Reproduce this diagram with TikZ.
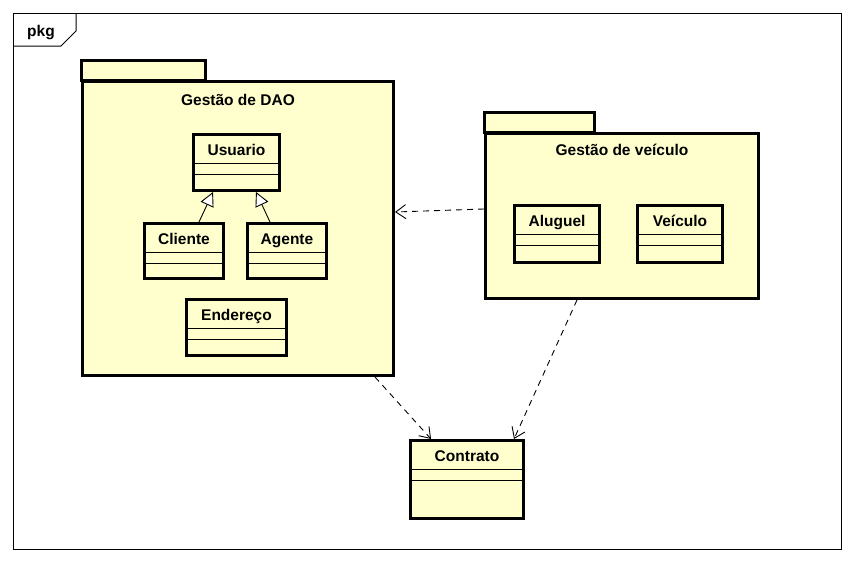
\documentclass[tikz,border=0pt]{standalone}
\usepackage{fontspec}
\setmainfont{Liberation Sans}
\usetikzlibrary{arrows.meta,positioning}
\definecolor{umlfill}{RGB}{255,255,206}
\tikzset{
  umlfont/.style={font=\fontsize{15.5}{17}\selectfont\bfseries, anchor=base, inner sep=0pt},
  pkgtab/.style={draw, line width=3pt, fill=umlfill},
  pkgbody/.style={draw, line width=3pt, fill=umlfill, inner sep=0pt, anchor=north west},
  classbox/.style={draw, line width=3pt, fill=umlfill, inner sep=0pt, anchor=north west},
  compline/.style={line width=0.9pt},
  dep/.style={line width=0.9pt, dash pattern=on 6pt off 5pt,
    -{Straight Barb[length=10pt,width=14pt,line width=0.9pt]}},
  gen/.style={line width=0.9pt, -{Triangle[open,length=14pt,width=14pt,fill=white,line width=0.9pt]}}
}
% class: name, x, y, width, height, label
\newcommand{\umlclass}[6]{%
  \node[classbox, minimum width=#4pt, minimum height=#5pt] (#1) at (#2,#3) {};
  \node[umlfont] (#1-name) at ([yshift=-22.5pt]#1.north) {#6};
  \draw[compline] ([yshift=-30.5pt]#1.north west) -- ([yshift=-30.5pt]#1.north east);
  \draw[compline] ([yshift=-41pt]#1.north west) -- ([yshift=-41pt]#1.north east);
}
\begin{document}
\begin{tikzpicture}[x=1pt,y=-1pt,line join=miter]
  \useasboundingbox (0,0) rectangle (853,562);
  \fill[white] (0,0) rectangle (853,562);

  \draw[line width=1pt] (13,13) rectangle (841,549);
  \draw[line width=1pt] (13,46) -- (61,46) -- (76,31) -- (76,13);
  \node[umlfont] (pkg) at (41,36) {pkg};

  \draw[pkgtab] (81,60) rectangle (205,80);
  \node[pkgbody, minimum width=311pt, minimum height=294pt] (dao) at (81,80) {};
  \node[umlfont] (dao-name) at ([yshift=-25pt]dao.north) {Gestão de DAO};

  \draw[pkgtab] (484,112) rectangle (594,132);
  \node[pkgbody, minimum width=273pt, minimum height=165pt] (veic) at (484,132) {};
  \node[umlfont] (veic-name) at ([yshift=-23.5pt]veic.north) {Gestão de veículo};

  \umlclass{usuario}{192}{133}{86}{56}{Usuario}
  \umlclass{cliente}{143}{222}{79}{55}{Cliente}
  \umlclass{agente}{246}{222}{79}{55}{Agente}
  \umlclass{endereco}{185}{298}{100}{56}{Endereço}
  \umlclass{aluguel}{513}{204}{85}{57}{Aluguel}
  \umlclass{veiculo}{636}{204}{85}{57}{Veículo}
  \umlclass{contrato}{409}{439}{113}{78}{Contrato}

  \draw[gen] (cliente.north -| 199,0) -- (usuario.south -| 213,0);
  \draw[gen] (agente.north -| 270,0) -- (usuario.south -| 256,0);

  \draw[dep] (veic.west |- 0,209) -- (dao.east |- 0,212);
  \draw[dep] (dao.south -| 375,0) -- (contrato.north -| 431,0);
  \draw[dep] (veic.south -| 577,0) -- (contrato.north -| 514,0);
\end{tikzpicture}
\end{document}
